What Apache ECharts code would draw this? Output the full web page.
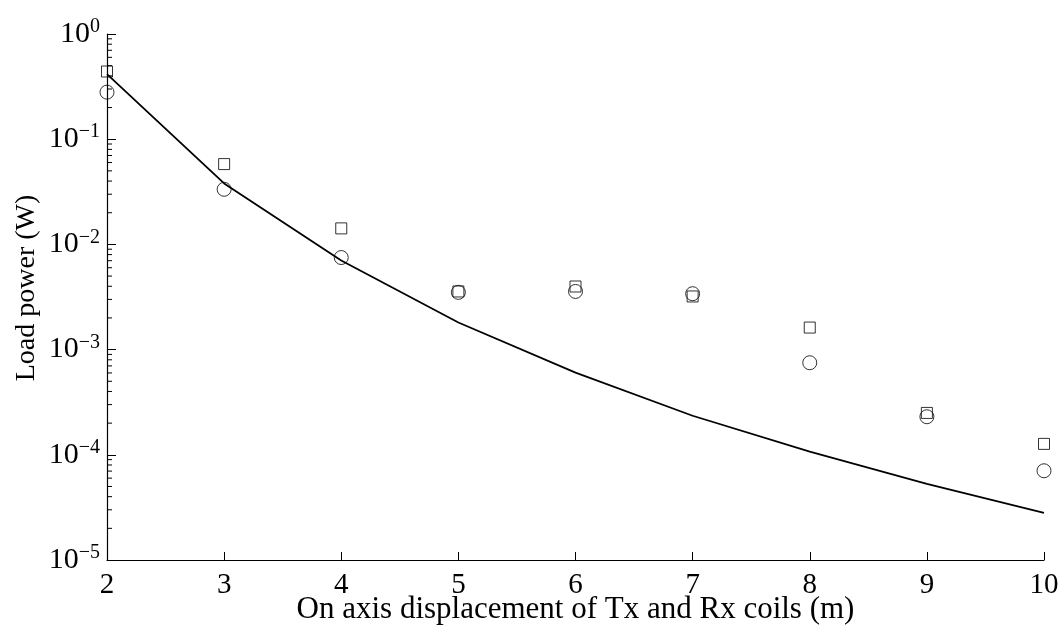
<!DOCTYPE html>
<html>
<head>
<meta charset="utf-8">
<script src="https://cdn.jsdelivr.net/npm/echarts@6/dist/echarts.min.js"></script>
<style>
html, body { margin: 0; padding: 0; background: #fff; }
#main { width: 1061px; height: 625px; }
</style>
</head>
<body>
<div id="main"></div>
<script>
// distances (m)
var distance = [2, 3, 4, 5, 6, 7, 8, 9, 10]
// solid line (calculated)
var calcPower = [0.416, 0.038, 0.00704, 0.00181, 0.000604, 0.000235, 0.000107, 0.000053, 0.000028]
// squares
var squarePower = [0.44, 0.058, 0.0142, 0.00357, 0.00398, 0.0032, 0.00162, 0.00025, 0.000127]
// circles
var circlePower = [0.28, 0.0334, 0.0075, 0.0035, 0.00357, 0.0034, 0.00075, 0.00023, 0.0000705]

var minorTicks = []
for (var k = -5; k < 0; k++) {
	for (var m = 2; m <= 9; m++) minorTicks.push([2, m * Math.pow(10, k)])
}

function pairs(ys) {
	return distance.map(function(x, i) { return [x, ys[i]] })
}

var font = 'Liberation Serif, Times New Roman, serif'
var chart = echarts.init(document.getElementById('main'))

var option = {
	animation: false,
	backgroundColor: '#fff',
	grid: { left: 107, right: 17, top: 34, bottom: 65, containLabel: false, outerBoundsMode: 'none' },
	xAxis: {
		type: 'value',
		min: 2, max: 10, interval: 1,
		name: 'On axis displacement of Tx and Rx coils (m)',
		nameLocation: 'middle',
		nameGap: 34,
		nameMoveOverlap: false,
		nameTextStyle: { fontFamily: font, fontSize: 31, color: '#000' },
		axisLine: { lineStyle: { color: '#000', width: 1.2 } },
		axisTick: { inside: true, length: 8, lineStyle: { color: '#000' } },
		axisLabel: { fontFamily: font, fontSize: 29, color: '#000', margin: 11 },
		splitLine: { show: false }
	},
	yAxis: {
		type: 'log',
		min: 1e-5, max: 1,
		logBase: 10,
		name: 'Load power (W)',
		nameLocation: 'middle',
		nameGap: 66,
		nameMoveOverlap: false,
		nameTextStyle: { fontFamily: font, fontSize: 28, color: '#000', padding: [0, 0, 0, 18] },
		axisLine: { show: true, lineStyle: { color: '#000', width: 1.2 } },
		axisTick: { inside: true, length: 9, lineStyle: { color: '#000' } },
		axisLabel: {
			margin: 7,
			formatter: function(v) {
				var e = Math.round(Math.log10(v))
				return '{b|10}{e|' + (e < 0 ? '\u2212' + (-e) : e) + '}'
			},
			rich: {
				b: { fontFamily: font, fontSize: 30, color: '#000' },
				e: { fontFamily: font, fontSize: 20, color: '#000', padding: [0, 0, 14, 0] }
			}
		},
		splitLine: { show: false }
	},
	series: [
		{
			type: 'custom',
			silent: true,
			data: minorTicks,
			renderItem: function(params, api) {
				var p = api.coord([api.value(0), api.value(1)])
				return {
					type: 'line',
					shape: { x1: p[0], y1: p[1], x2: p[0] + 5, y2: p[1] },
					style: { stroke: '#000', lineWidth: 1 }
				}
			}
		},
		{
			name: 'calc',
			type: 'line',
			data: pairs(calcPower),
			showSymbol: false,
			lineStyle: { color: '#000', width: 1.8 }
		},
		{
			name: 'square',
			type: 'scatter',
			data: pairs(squarePower),
			symbol: 'rect',
			symbolSize: 11,
			itemStyle: { color: 'transparent', borderColor: '#000', borderWidth: 1 }
		},
		{
			name: 'circle',
			type: 'scatter',
			data: pairs(circlePower),
			symbol: 'circle',
			symbolSize: 14,
			itemStyle: { color: 'transparent', borderColor: '#000', borderWidth: 1 }
		}
	]
}

chart.setOption(option)
</script>
</body>
</html>
